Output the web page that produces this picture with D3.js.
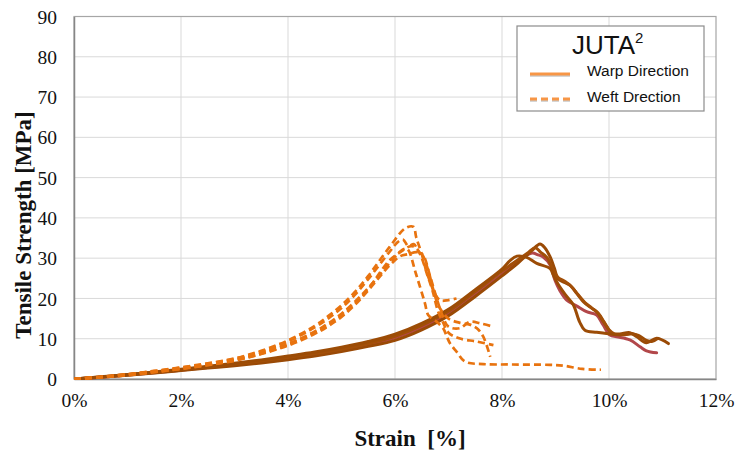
<!DOCTYPE html>
<html>
<head>
<meta charset="utf-8">
<script src="https://cdn.jsdelivr.net/npm/d3@7"></script>
<style>
html,body{margin:0;padding:0;background:#fff;}
svg{display:block;}
</style>
</head>
<body>
<svg id="chart" width="736" height="453"></svg>
<script>
// ---- data (strain %, tensile strength MPa) ----
const xTicks = [0, 2, 4, 6, 8, 10, 12];
const yTicks = [0, 10, 20, 30, 40, 50, 60, 70, 80, 90];
const legendTitle = "JUTA";
const legendLabels = ["Warp Direction", "Weft Drection"];

const warp1 = [[0,0],[0.5,0.45],[1,0.95],[1.5,1.5],[2,2.1],[2.5,2.7],[3,3.3],[3.5,4.0],[4,4.8],[4.5,5.7],[5,6.8],[5.5,8.1],[6,9.6],[6.5,12.2],[7,15.7],[7.5,20.5],[8,25.6],[8.3,28.8],[8.55,31.8],[8.71,33.5],[8.8,32.6],[8.9,30.3],[8.98,27.5],[9.05,24.8],[9.18,23.9],[9.27,23.3],[9.4,21.2],[9.52,19.2],[9.64,17.9],[9.77,16.7],[9.86,15.0],[9.96,13.0],[10.05,11.3],[10.2,11.2],[10.39,11.5],[10.52,10.5],[10.7,9.0],[10.89,10.1],[11.11,8.8]];
const warp2 = [[0,0],[0.5,0.5],[1,1.05],[1.5,1.65],[2,2.3],[2.5,3.0],[3,3.7],[3.5,4.5],[4,5.4],[4.5,6.3],[5,7.4],[5.5,8.8],[6,10.6],[6.5,13.3],[7,16.8],[7.5,21.7],[8,26.8],[8.3,29.6],[8.5,31.5],[8.62,32.6],[8.72,31.5],[8.85,30.0],[8.95,27.2],[9.05,25.2],[9.18,24.2],[9.3,22.9],[9.42,21.0],[9.55,19.0],[9.68,17.6],[9.8,16.3],[9.9,14.3],[10.0,12.2],[10.1,11.2],[10.3,11.0],[10.45,11.2],[10.6,10.2]];
const warp3 = [[0,0],[0.5,0.45],[1,1.0],[1.5,1.55],[2,2.2],[2.5,2.85],[3,3.5],[3.5,4.25],[4,5.1],[4.5,6.0],[5,7.1],[5.5,8.5],[6,10.2],[6.5,12.8],[7,16.2],[7.5,21.0],[8,26.0],[8.3,29.3],[8.5,31.0],[8.57,31.3],[8.68,30.8],[8.77,30.3],[8.9,28.3],[8.99,24.5],[9.08,22.0],[9.21,19.6],[9.4,18.1],[9.58,16.7],[9.77,15.9],[9.89,13.4],[10.02,10.9],[10.14,10.5],[10.39,9.7],[10.58,8.0],[10.7,7.0],[10.89,6.5]];
const warp4 = [[0,0],[0.5,0.55],[1,1.1],[1.5,1.75],[2,2.4],[2.5,3.15],[3,3.9],[3.5,4.75],[4,5.7],[4.5,6.7],[5,7.9],[5.5,9.3],[6,11.1],[6.5,13.8],[7,17.3],[7.5,22.2],[8,27.3],[8.15,29.4],[8.28,30.5],[8.46,30.2],[8.65,28.7],[8.9,27.4],[8.96,25.8],[9.05,23.5],[9.18,21.0],[9.33,18.5],[9.45,14.2],[9.55,12.1],[9.77,11.6],[10.02,11.2],[10.2,11.0],[10.4,11.3],[10.55,10.8],[10.7,9.6],[10.8,9.3],[10.9,10.0]];

const weft1 = [[0,0],[0.5,0.55],[1,1.2],[1.5,2.0],[2,2.9],[2.5,3.9],[3,5.1],[3.5,7.0],[4,9.6],[4.5,13.2],[4.75,15.6],[5,18.3],[5.25,21.6],[5.5,25.6],[5.9,32.8],[6.19,37.4],[6.34,37.8],[6.4,35.0],[6.5,31.0],[6.58,27.0],[6.66,24.0],[6.75,21.0],[6.85,19.5],[7.0,19.6],[7.15,20.0]];
const weft2 = [[0,0],[0.5,0.5],[1,1.15],[1.5,1.95],[2,2.8],[2.5,3.8],[3,5.0],[3.5,6.8],[4,9.3],[4.5,12.8],[4.75,15.0],[5,17.6],[5.25,20.9],[5.5,24.8],[5.9,31.6],[6.05,34.0],[6.15,34.6],[6.25,33.0],[6.35,33.5],[6.45,31.5],[6.53,30.7],[6.65,25.8],[6.78,20.0],[6.88,16.0],[7.0,13.0],[7.21,12.6],[7.4,14.2],[7.6,13.8],[7.78,13.2]];
const weft3 = [[0,0],[0.5,0.45],[1,1.05],[1.5,1.8],[2,2.6],[2.5,3.55],[3,4.7],[3.5,6.4],[4,8.7],[4.5,11.8],[4.75,13.8],[5,16.2],[5.25,19.2],[5.5,22.6],[5.9,28.8],[6.09,31.6],[6.2,32.4],[6.25,32.0],[6.39,26.2],[6.56,18.8],[6.62,15.9],[6.78,14.2],[6.9,12.6],[6.97,10.5],[7.03,8.8],[7.15,6.8],[7.31,4.3],[7.65,3.7],[8.2,3.6],[8.9,3.5],[9.15,3.3],[9.5,2.5],[9.85,2.3]];
const weft4 = [[0,0],[0.5,0.45],[1,1.0],[1.5,1.75],[2,2.55],[2.5,3.5],[3,4.6],[3.5,6.3],[4,8.5],[4.5,11.5],[4.75,13.4],[5,15.8],[5.25,18.8],[5.5,22.4],[5.9,29.5],[6.1,31.5],[6.3,33.0],[6.4,32.5],[6.5,30.0],[6.6,26.0],[6.7,22.0],[6.8,17.0],[6.9,14.0],[7.0,11.5],[7.2,10.1],[7.53,9.3],[7.84,8.4]];
const weft5 = [[0,0],[0.5,0.4],[1,0.95],[1.5,1.7],[2,2.5],[2.5,3.45],[3,4.55],[3.5,6.2],[4,8.3],[4.5,11.2],[4.75,13.1],[5,15.4],[5.25,18.4],[5.5,22.0],[5.9,28.2],[6.1,30.5],[6.25,31.0],[6.4,31.5],[6.5,31.0],[6.62,27.0],[6.72,22.0],[6.82,18.0],[7.0,15.0],[7.2,14.0],[7.4,13.5],[7.53,12.6],[7.65,10.5],[7.78,5.5]];

const warpSeries = [
  {data: warp3, color: "#b2474a"},
  {data: warp1, color: "#9a4a06"},
  {data: warp2, color: "#a24f08"},
  {data: warp4, color: "#9c4c06"}
];
const weftSeries = [weft3, weft4, weft5, weft2, weft1];

// ---- layout ----
const svg = d3.select("#chart");
const L = 74, R = 716, T = 16.5, B = 379;
const x = d3.scaleLinear().domain([0, 12]).range([L, R]);
const y = d3.scaleLinear().domain([0, 90]).range([B, T]);

// gridlines
svg.append("g").selectAll("line.h").data(yTicks.filter(d => d > 0)).join("line")
  .attr("x1", L).attr("x2", R).attr("y1", d => y(d)).attr("y2", d => y(d))
  .attr("stroke", "#d9d9d9").attr("stroke-width", 1);
svg.append("g").selectAll("line.v").data(xTicks.filter(d => d > 0 && d < 12)).join("line")
  .attr("y1", T).attr("y2", B).attr("x1", d => x(d)).attr("x2", d => x(d))
  .attr("stroke", "#d9d9d9").attr("stroke-width", 1);

// plot border
svg.append("rect").attr("x", L).attr("y", T).attr("width", R - L).attr("height", B - T)
  .attr("fill", "none").attr("stroke", "#a6a6a6").attr("stroke-width", 1.2);

// axes
const xAxis = d3.axisBottom(x).tickValues(xTicks).tickSize(0).tickPadding(14).tickFormat(d => d + "%");
const yAxis = d3.axisLeft(y).tickValues(yTicks).tickSize(0).tickPadding(17);
const gx = svg.append("g").attr("transform", `translate(0,${B})`).call(xAxis);
const gy = svg.append("g").attr("transform", `translate(${L},0)`).call(yAxis);
[gx, gy].forEach(g => {
  g.select(".domain").attr("stroke", "#868686").attr("stroke-width", 1.5);
  g.selectAll("text").attr("font-family", "Liberation Serif, Times New Roman, serif")
    .attr("font-size", 19.5).attr("fill", "#111");
});
gy.selectAll("text").attr("dy", "0.34em");

// axis titles
svg.append("text").attr("x", 410).attr("y", 446).attr("text-anchor", "middle")
  .attr("font-family", "Liberation Serif, Times New Roman, serif").attr("font-weight", "bold")
  .attr("font-size", 23).attr("fill", "#111").style("white-space", "pre").text("Strain  [%]");
svg.append("text").attr("transform", "translate(31,225) rotate(-90)").attr("text-anchor", "middle")
  .attr("font-family", "Liberation Serif, Times New Roman, serif").attr("font-weight", "bold")
  .attr("font-size", 23).attr("fill", "#111").text("Tensile Strength [MPa]");

// curves
const line = d3.line().x(d => x(d[0])).y(d => y(d[1])).curve(d3.curveCatmullRom.alpha(0.5));
svg.append("defs").append("clipPath").attr("id", "clip")
  .append("rect").attr("x", L).attr("y", T - 2).attr("width", R - L).attr("height", B - T + 3);
const gc = svg.append("g").attr("clip-path", "url(#clip)");
gc.selectAll("path.warp").data(warpSeries).join("path")
  .attr("d", d => line(d.data)).attr("fill", "none")
  .attr("stroke", d => d.color).attr("stroke-width", 3)
  .attr("stroke-linejoin", "round").attr("stroke-linecap", "round");
gc.selectAll("path.weft").data(weftSeries).join("path")
  .attr("d", d => line(d)).attr("fill", "none")
  .attr("stroke", "#e8730f").attr("stroke-width", 2.7)
  .attr("stroke-dasharray", "7,4").attr("stroke-linejoin", "round");

// legend
const lg = svg.append("g");
lg.append("rect").attr("x", 517).attr("y", 26).attr("width", 187).attr("height", 85)
  .attr("fill", "#fff").attr("stroke", "#8c8c8c").attr("stroke-width", 1.2);
const tt = lg.append("text").attr("x", 572).attr("y", 54)
  .attr("font-family", "Liberation Sans, Arial, sans-serif").attr("font-size", 26).attr("fill", "#111");
tt.append("tspan").text(legendTitle);
tt.append("tspan").attr("font-size", 15).attr("dy", -11).text("2");
[0, 1].forEach(i => {
  const yy = i === 0 ? 74 : 99;
  lg.append("line").attr("x1", 530).attr("x2", 570).attr("y1", yy + 1.5).attr("y2", yy + 1.5)
    .attr("stroke", "#c8c8c8").attr("stroke-width", 2.5)
    .attr("stroke-dasharray", i === 1 ? "7,4" : null);
  lg.append("line").attr("x1", 530).attr("x2", 570).attr("y1", yy).attr("y2", yy)
    .attr("stroke", "#f79646").attr("stroke-width", 2.8)
    .attr("stroke-dasharray", i === 1 ? "7,4" : null);
  lg.append("text").attr("x", 587).attr("y", yy + 1.5 + (i === 0 ? 0 : 1))
    .attr("font-family", "Liberation Sans, Arial, sans-serif").attr("font-size", 15.5)
    .attr("fill", "#111").text(legendLabels[i]);
});
</script>
</body>
</html>
